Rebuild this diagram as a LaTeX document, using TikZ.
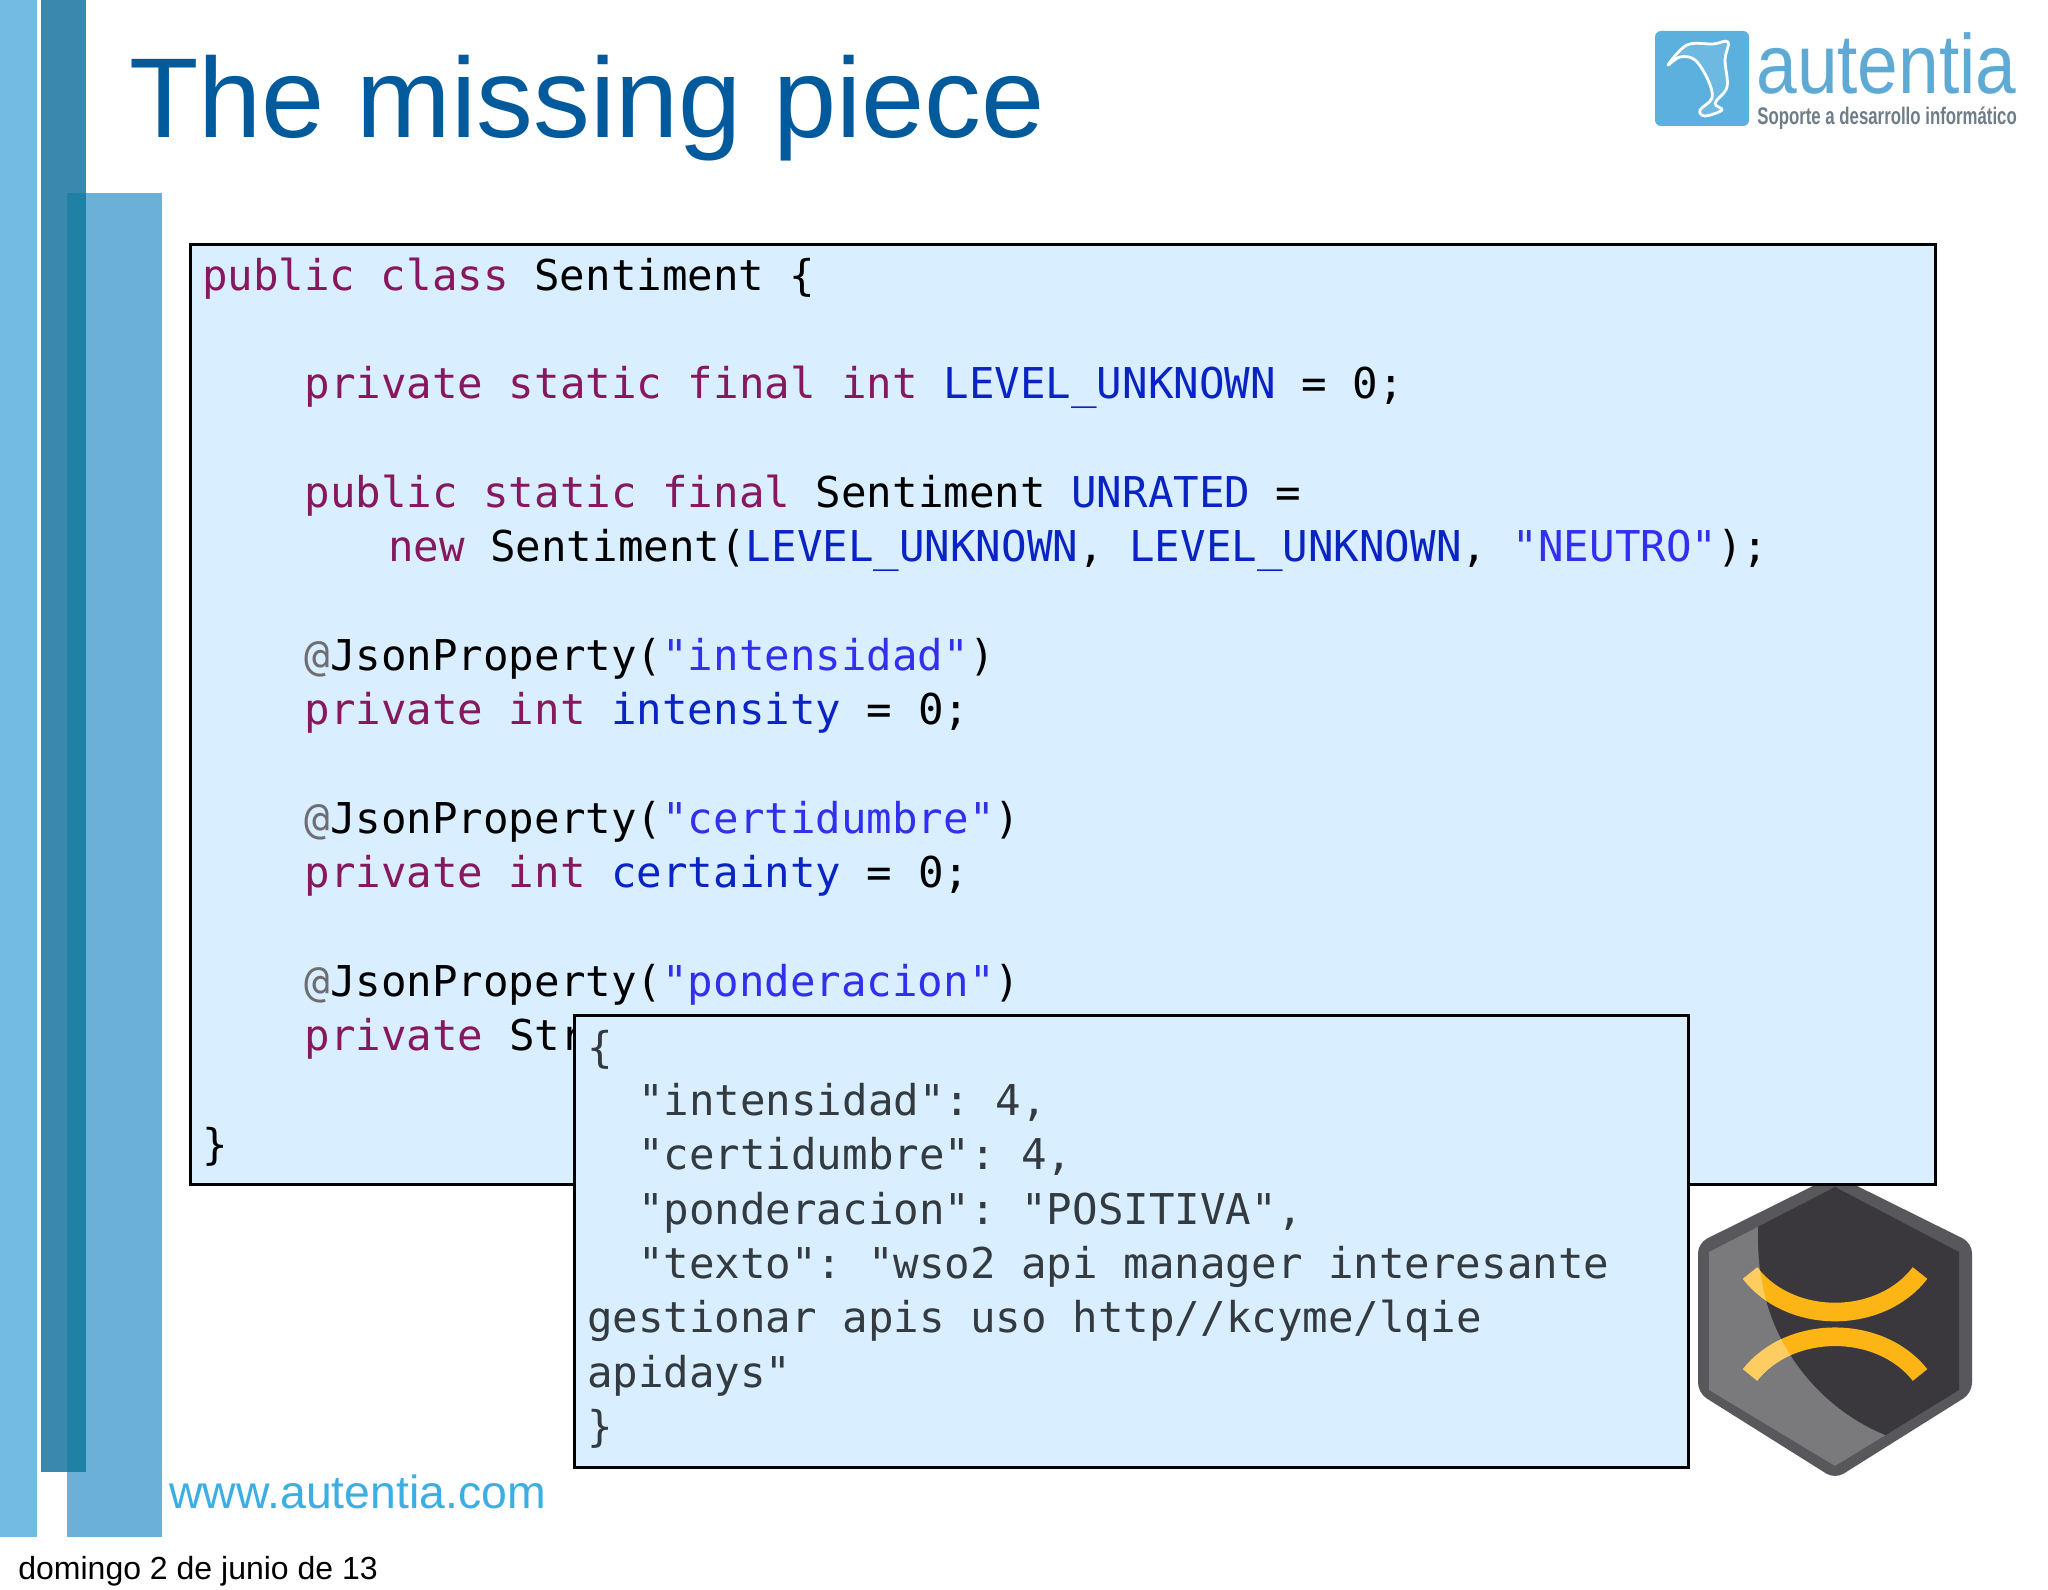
\documentclass[tikz,border=0pt]{standalone}
\usepackage{fontspec}
\setmainfont{Liberation Sans}
\setmonofont{DejaVu Sans Mono}
\definecolor{kw}{HTML}{87185F}
\definecolor{fld}{HTML}{0A24C4}
\definecolor{str}{HTML}{3030EE}
\definecolor{ann}{HTML}{6E6E72}
\definecolor{boxfill}{HTML}{D9EFFF}
\definecolor{jsontext}{HTML}{333A40}
\newcommand{\K}[1]{\textcolor{kw}{#1}}
\newcommand{\F}[1]{\textcolor{fld}{#1}}
\newcommand{\St}[1]{\textcolor{str}{#1}}
\newcommand{\A}[1]{\textcolor{ann}{#1}}
\tikzset{
  codeline/.style={anchor=base west,inner sep=0pt,outer sep=0pt,font=\fontsize{21.23}{26}\ttfamily,text=black},
  jsonline/.style={codeline,text=jsontext},
  codebox/.style={draw=black,line width=1.3pt,fill=boxfill,inner sep=0pt,anchor=north west},
}
\begin{document}
\begin{tikzpicture}[x=0.5pt,y=-0.5pt]
\useasboundingbox (0,0) rectangle (2048,1589);
% side bars
\fill[fill=white] (0,0) rectangle (2048,1589);
\fill[fill={rgb,255:red,116;green,187;blue,228}] (0,0) rectangle (37,1537);
\fill[fill={rgb,255:red,58;green,137;blue,173}] (41,0) rectangle (86,1472);
\fill[fill={rgb,255:red,107;green,176;blue,214}] (67,193) rectangle (162,1537);
\fill[fill={rgb,255:red,31;green,129;blue,166}] (67,193) rectangle (86,1472);
% title
\node[anchor=base west,inner sep=0pt,text={rgb,255:red,0;green,90;blue,156},font=\fontsize{56.8}{60}\selectfont] (title) at (129,138) {The missing piece};
\node[anchor=base west,inner sep=0pt,text={rgb,255:red,61;green,174;blue,227},font=\fontsize{23.2}{26}\selectfont] (www) at (169,1508) {www.autentia.com};
\node[anchor=base west,inner sep=0pt,text=black,font=\fontsize{16}{18}\selectfont] (date) at (18,1579) {domingo 2 de junio de 13};
% logo
\fill[fill={rgb,255:red,91;green,176;blue,221},rounded corners=3pt] (1655,31) rectangle (1749,126);
\draw[white,line width=1.4pt,fill=white,fill opacity=0.12,line join=round] plot[smooth cycle,tension=0.6] coordinates {(1668,65) (1687,45) (1713,44) (1728,42) (1725,60) (1727,87) (1715,103) (1722,110) (1705,116) (1700,110) (1712,98) (1708,80) (1695,60) (1680,57)};
\node[anchor=base west,inner sep=0pt,text={rgb,255:red,95;green,170;blue,212},font=\fontsize{42}{46}\selectfont,xscale=0.87,transform shape] (autentia) at (1756,94) {autentia};
\node[anchor=base west,inner sep=0pt,text={rgb,255:red,110;green,125;blue,135},font=\bfseries\fontsize{12}{14}\selectfont,xscale=0.70,transform shape] (tag) at (1757,125) {Soporte a desarrollo informático};
% hexagon
\fill[fill={rgb,255:red,88;green,87;blue,92},rounded corners=5pt] (1835,1175) -- (1972,1243) -- (1972,1393) -- (1835,1479) -- (1698,1393) -- (1698,1243) -- cycle;
\begin{scope}
\path[clip] (1835,1187) -- (1959,1252) -- (1959,1390) -- (1835,1466) -- (1709,1390) -- (1709,1252) -- cycle;
\fill[fill={rgb,255:red,58;green,56;blue,61}] (1690,1170) rectangle (1980,1480);
\draw[draw={rgb,255:red,253;green,181;blue,21},line width=9.3pt] (1750,1273) .. controls (1790,1325) and (1880,1325) .. (1920,1273);
\draw[draw={rgb,255:red,253;green,181;blue,21},line width=9.3pt] (1750,1375) .. controls (1790,1324) and (1880,1324) .. (1920,1375);
\fill[white,opacity=0.33] (1690,1170) -- (1764,1170) .. controls (1752,1240) and (1758,1290) .. (1778,1333) .. controls (1803,1385) and (1845,1420) .. (1890,1437) -- (1890,1480) -- (1690,1480) -- cycle;
\end{scope}
% boxes
\node[codebox,minimum width=872.5pt,minimum height=470pt] (box1) at (189,243) {};
\node[codeline] (l1) at (202,290) {\K{public class} Sentiment \{};
\node[codeline] (l2) at (304.5,398) {\K{private static final int} \F{LEVEL\_UNKNOWN} = 0;};
\node[codeline] (l3) at (304.5,507) {\K{public static final} Sentiment \F{UNRATED} =};
\node[codeline] (l4) at (388,561) {\K{new} Sentiment(\F{LEVEL\_UNKNOWN}, \F{LEVEL\_UNKNOWN}, \St{"NEUTRO"});};
\node[codeline] (l5) at (304.5,670) {\A{@}JsonProperty(\St{"intensidad"})};
\node[codeline] (l6) at (304.5,724) {\K{private int} \F{intensity} = 0;};
\node[codeline] (l7) at (304.5,833) {\A{@}JsonProperty(\St{"certidumbre"})};
\node[codeline] (l8) at (304.5,887) {\K{private int} \F{certainty} = 0;};
\node[codeline] (l9) at (304.5,996) {\A{@}JsonProperty(\St{"ponderacion"})};
\node[codeline] (l10) at (304.5,1050) {\K{private} Str};
\node[codeline] (l11) at (202,1159) {\}};
\node[codebox,minimum width=557pt,minimum height=226pt] (box2) at (573,1014) {};
\node[jsonline] (j1) at (587,1062) {\{};
\node[jsonline] (j2) at (638,1115) {"intensidad": 4,};
\node[jsonline] (j3) at (638,1169) {"certidumbre": 4,};
\node[jsonline] (j4) at (638,1224) {"ponderacion": "POSITIVA",};
\node[jsonline] (j5) at (638,1278) {"texto": "wso2 api manager interesante};
\node[jsonline] (j6) at (587,1332) {gestionar apis uso http//kcyme/lqie};
\node[jsonline] (j7) at (587,1387) {apidays"};
\node[jsonline] (j8) at (587,1441) {\}};
\end{tikzpicture}
\end{document}
